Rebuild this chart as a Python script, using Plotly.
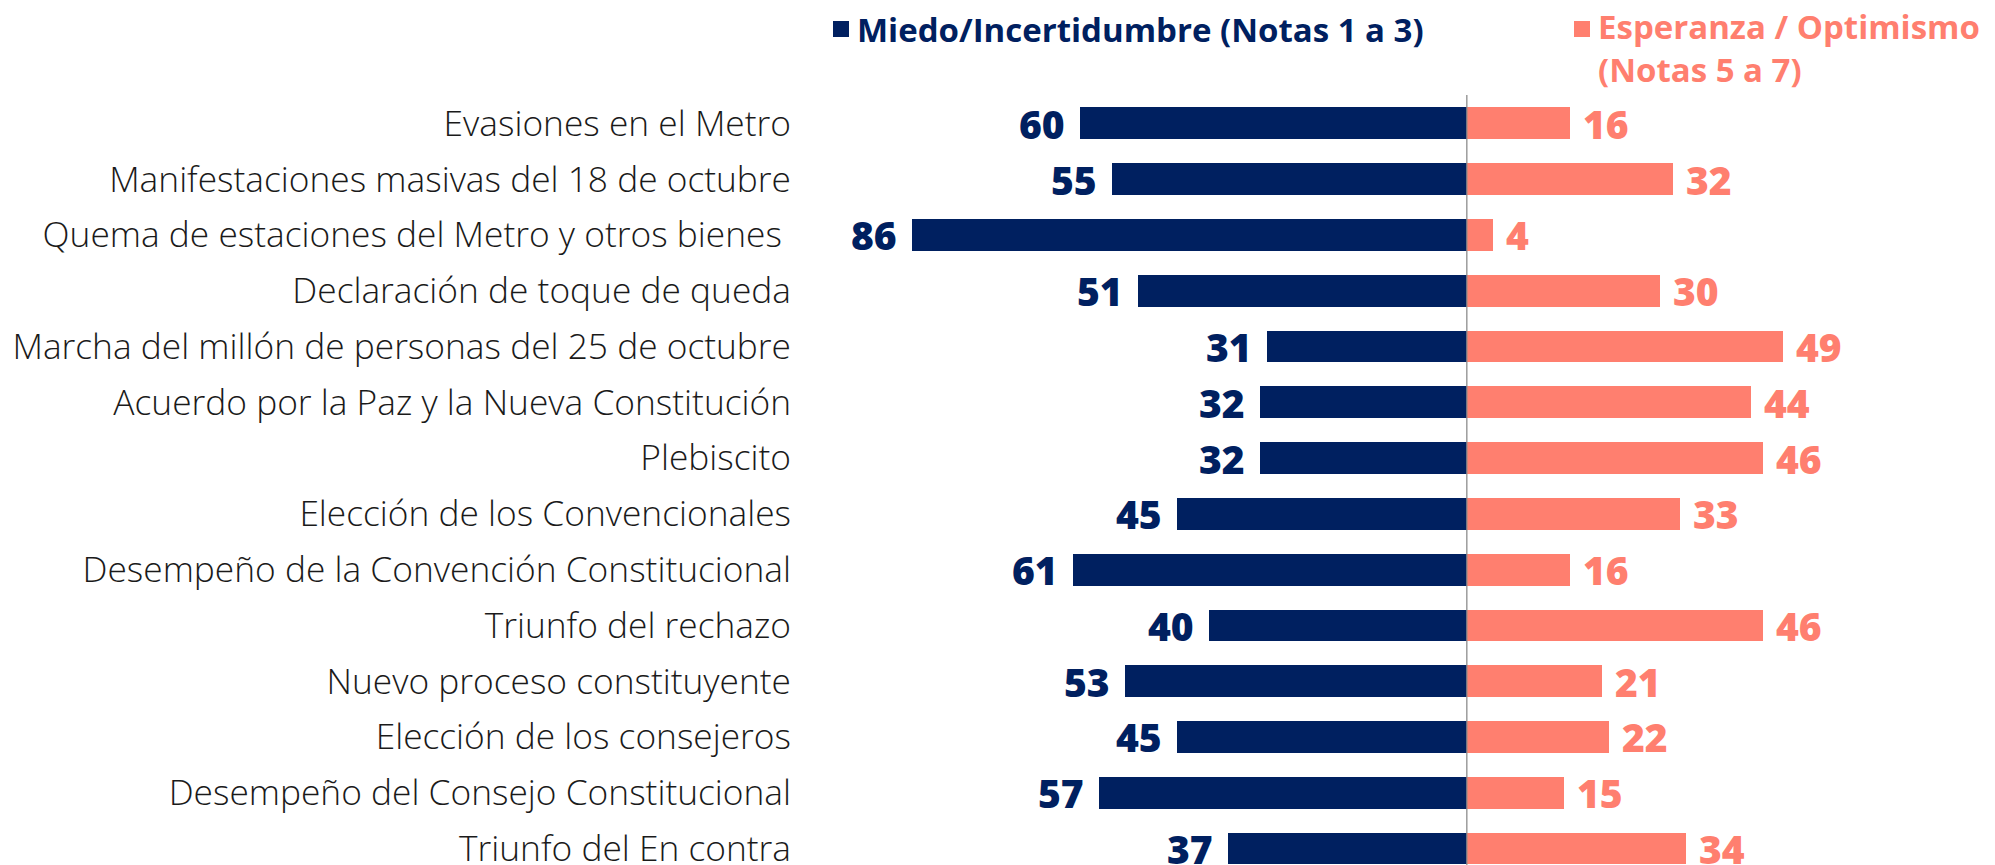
import plotly.graph_objects as go

categories = [
    "Evasiones en el Metro",
    "Manifestaciones masivas del 18 de octubre",
    "Quema de estaciones del Metro y otros bienes\u00a0",
    "Declaración de toque de queda",
    "Marcha del millón de personas del 25 de octubre",
    "Acuerdo por la Paz y la Nueva Constitución",
    "Plebiscito",
    "Elección de los Convencionales",
    "Desempeño de la Convención Constitucional",
    "Triunfo del rechazo",
    "Nuevo proceso constituyente",
    "Elección de los consejeros",
    "Desempeño del Consejo Constitucional",
    "Triunfo del En contra",
]
miedo = [60, 55, 86, 51, 31, 32, 32, 45, 61, 40, 53, 45, 57, 37]
esperanza = [16, 32, 4, 30, 49, 44, 46, 33, 16, 46, 21, 22, 15, 34]
legend_names = ["Miedo/Incertidumbre (Notas 1 a 3)", "Esperanza / Optimismo<br>(Notas 5 a 7)"]

NAVY = "#002060"
SALMON = "#FF7F6F"
pos = [-i for i in range(len(categories))]

L, T, W, H = 800, 95, 1995, 865
PW, PH = W - L, H - T


def px(xp):
    return (xp - L) / PW


def py(yp):
    return (H - yp) / PH


fig = go.Figure()
fig.add_trace(go.Bar(y=pos, x=[-v for v in miedo], orientation="h", width=0.57,
                     marker=dict(color=NAVY, line=dict(width=0)), showlegend=False,
                     hoverinfo="skip"))
fig.add_trace(go.Bar(y=pos, x=esperanza, orientation="h", width=0.57,
                     marker=dict(color=SALMON, line=dict(width=0)), showlegend=False,
                     hoverinfo="skip"))

val_font = dict(family="Open Sans", size=39, weight=800)
for p, v in zip(pos, miedo):
    fig.add_annotation(x=-v, y=p, text=str(v), showarrow=False, xanchor="right",
                       xshift=-13, font=dict(color=NAVY, **val_font))
for p, v in zip(pos, esperanza):
    fig.add_annotation(x=v, y=p, text=str(v), showarrow=False, xanchor="left",
                       xshift=11, font=dict(color=SALMON, **val_font))

# legend (manual)
leg_font = dict(family="Open Sans", size=33, weight=700)
fig.add_shape(type="rect", xref="paper", yref="paper", x0=px(833), x1=px(849),
              y0=py(37), y1=py(21), fillcolor=NAVY, line=dict(width=0))
fig.add_annotation(xref="paper", yref="paper", x=px(855), y=py(29),
                   text=legend_names[0], showarrow=False, xanchor="left", yanchor="middle",
                   font=dict(color=NAVY, **leg_font))
fig.add_shape(type="rect", xref="paper", yref="paper", x0=px(1574), x1=px(1590),
              y0=py(37), y1=py(21), fillcolor=SALMON, line=dict(width=0))
fig.add_annotation(xref="paper", yref="paper", x=px(1596), y=py(48),
                   text=legend_names[1], showarrow=False, xanchor="left", yanchor="middle",
                   align="left", font=dict(color=SALMON, **leg_font))

# center line
fig.add_shape(type="line", xref="x", yref="paper", x0=0, x1=0, y0=0, y1=1,
              line=dict(color="#8C8C8C", width=1.3))

fig.update_layout(
    width=W, height=H,
    margin=dict(l=L, r=0, t=T, b=0, pad=0, autoexpand=False),
    paper_bgcolor="white", plot_bgcolor="white",
    barmode="relative", bargap=0,
    xaxis=dict(range=[-103.4, 81.9], visible=False, fixedrange=True, automargin=False),
    yaxis=dict(range=[-13.295, 0.509], tickvals=pos, ticktext=categories,
               showgrid=False, zeroline=False, showline=False, ticks="",
               automargin=False,
               ticklabelstandoff=8, ticklabeloverflow="allow",
               tickfont=dict(family="Open Sans", size=35.3, color="#1a1a1a", weight=300)),
)

fig.write_html("out.html", post_script="document.body.style.margin='0';",
               config={"displayModeBar": False})
